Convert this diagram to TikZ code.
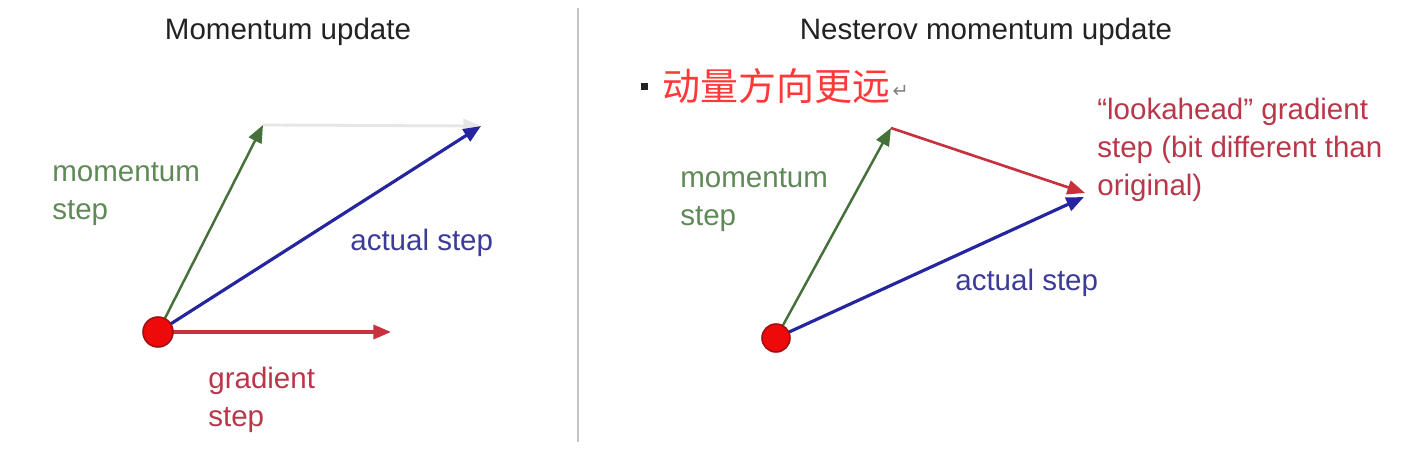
\documentclass[tikz,border=0pt]{standalone}
\usepackage{fontspec}
\setmainfont{Liberation Sans}
\newfontfamily\cjkfont{Noto Sans CJK SC}
\newfontfamily\symfont{DejaVu Sans}
\usetikzlibrary{arrows.meta,positioning}
\definecolor{ink}{HTML}{222222}
\definecolor{momgreen}{HTML}{45703A}
\definecolor{momtext}{HTML}{5F8A58}
\definecolor{actblue}{HTML}{2525A0}
\definecolor{acttext}{HTML}{3C3C98}
\definecolor{gradred}{HTML}{C8303C}
\definecolor{gradtext}{HTML}{B8384A}
\definecolor{dotred}{HTML}{EE0A0A}
\definecolor{dotrim}{HTML}{A01010}
\definecolor{cjkred}{HTML}{FF3838}
\definecolor{rulegray}{HTML}{C4C4C4}
\definecolor{ghost}{HTML}{E6E6E6}

\begin{document}
\begin{tikzpicture}[x=0.02cm,y=-0.02cm,
  lbl/.style={font=\fontsize{16.8}{21.6}\selectfont,align=left,inner sep=0pt},
  ttl/.style={font=\fontsize{16.8}{21.6}\selectfont,text=ink,inner sep=0pt},
  start/.style={circle,fill=dotred,draw=dotrim,line width=.9pt,minimum size=0.6cm,inner sep=0pt},
  vec/.style={-{Triangle[length=10pt,width=8pt]},line width=1.8pt}]
  \useasboundingbox (0,0) rectangle (1404,460);
  \fill[white] (0,0) rectangle (1404,460);
  \coordinate (rtop) at (578,8);
  \coordinate (rbot) at (578,442);
  \draw[rulegray,line width=1.4pt] (rtop)--(rbot);
  % plain momentum
  \node[ttl] (t1) at (288,32) {Momentum update};
  \coordinate (o1) at (158,332);
  \coordinate (m1) at (263,125);
  \coordinate (a1) at (481,126);
  \coordinate (g1) at (391,332);
  \draw[ghost,line width=1.6pt,-{Triangle[length=10pt,width=8pt]}] (m1)--(a1);
  \draw[vec,momgreen,line width=1.4pt] (o1)--(m1);
  \draw[vec,actblue] (o1)--(a1);
  \draw[vec,gradred] (o1)--(g1);
  \node[start] (p1) at (o1) {};
  \node[lbl,text=momtext,anchor=west] (ml1) at (52,194) {momentum\\step};
  \node[lbl,text=acttext,anchor=west] (al1) at (350,243) {actual step};
  \node[lbl,text=gradtext,anchor=west] (gl1) at (208,400) {gradient\\step};
  % nesterov
  \node[ttl] (t2) at (986,32) {Nesterov momentum update};
  \node[inner sep=0pt,anchor=west] (note) at (662,86)
    {\cjkfont\fontsize{21.6}{26}\selectfont\color{cjkred}动量方向更远};
  \fill[ink] ([xshift=-12pt,yshift=-2.5pt]note.west) rectangle ([xshift=-8pt,yshift=1.5pt]note.west);
  \node[inner sep=0pt,anchor=west,text=gray] (ret) at ([xshift=1pt,yshift=-3pt]note.east)
    {\symfont\fontsize{11}{13}\selectfont ↵};
  \coordinate (o2) at (776,338);
  \coordinate (m2) at (891,128);
  \coordinate (l2) at (1085,193);
  \coordinate (a2) at (1084,197);
  \draw[vec,momgreen,line width=1.4pt] (o2)--(m2);
  \draw[vec,gradred,line width=1.5pt] (m2)--(l2);
  \draw[vec,actblue] (o2)--(a2);
  \node[start,minimum size=0.56cm] (p2) at (o2) {};
  \node[lbl,text=momtext,anchor=west] (ml2) at (680,200) {momentum\\step};
  \node[lbl,text=acttext,anchor=west] (al2) at (955,283) {actual step};
  \node[lbl,text=gradtext,anchor=west] (ll2) at (1097,150)
    {“lookahead” gradient\\step (bit different than\\original)};
\end{tikzpicture}
\end{document}
